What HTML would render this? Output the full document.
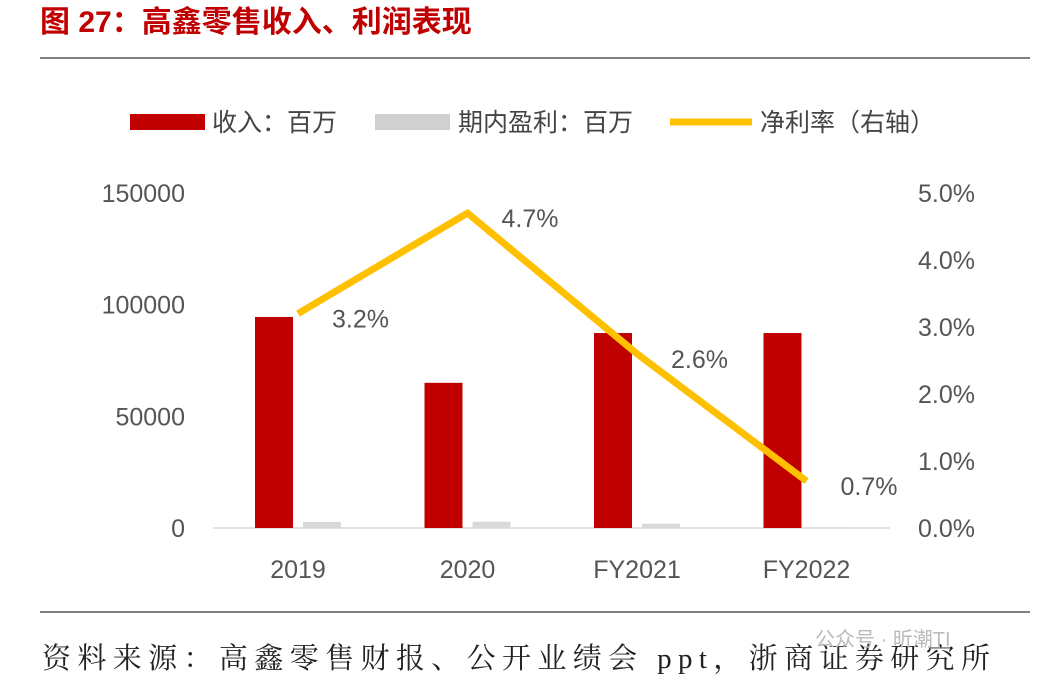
<!DOCTYPE html>
<html><head><meta charset="utf-8"><style>
body{margin:0;background:#fff;width:1050px;height:686px;overflow:hidden;font-family:"Liberation Sans","Noto Sans CJK SC",sans-serif;}
</style></head><body>
<svg id="c" width="1050" height="686" xmlns="http://www.w3.org/2000/svg">
<text x="40" y="32" fill="#c00000" font-size="30" font-weight="bold" font-family="Liberation Sans,Noto Sans CJK SC,sans-serif">图 27：高鑫零售收入、利润表现</text>
<line x1="40" y1="58" x2="1030" y2="58" stroke="#555" stroke-width="1.5"/>
<g font-size="25" fill="#444">
<rect x="130" y="114" width="75" height="16" fill="#c00000"/>
<text x="212" y="131">收入：百万</text>
<rect x="375" y="114" width="75" height="16" fill="#d0d0d0"/>
<text x="458" y="131">期内盈利：百万</text>
<line x1="670" y1="122" x2="752" y2="122" stroke="#ffc000" stroke-width="7"/>
<text x="760" y="131">净利率（右轴）</text>
</g>
<line x1="213" y1="528" x2="890" y2="528" stroke="#d9d9d9" stroke-width="1.5"/>
<g id="marks"></g>
<line x1="40" y1="612" x2="1030" y2="612" stroke="#555" stroke-width="1.5"/>
<text x="42" y="668" font-size="29" fill="#222" textLength="948" lengthAdjust="spacing" font-family="Liberation Serif,Noto Serif CJK SC,serif">资料来源：高鑫零售财报、公开业绩会 ppt，浙商证券研究所</text>
<text x="815" y="646" font-size="20" fill="#bbb">公众号 · 昕潮TI</text>
</svg>
<script>
const categories=["2019","2020","FY2021","FY2022"];
const revenue=[94500,65000,87300,87300];
const profit=[2700,2800,1900,300];
const margin=[3.2,4.7,2.6,0.7];
const marginLabels=["3.2%","4.7%","2.6%","0.7%"];
const leftTicks=[0,50000,100000,150000];
const rightTicks=[0,1,2,3,4,5];
const NS="http://www.w3.org/2000/svg";
const g=document.getElementById("marks");
const y0=528,yTop=193;
const yL=v=>y0-(v/150000)*(y0-yTop);
const yR=v=>y0-(v/5)*(y0-yTop);
const xC=i=>298+i*169.5;
function mk(t,a){const e=document.createElementNS(NS,t);for(const k in a)e.setAttribute(k,a[k]);g.appendChild(e);return e;}
leftTicks.forEach(v=>{const t=mk("text",{x:185,y:yL(v)+9,"text-anchor":"end","font-size":25,fill:"#555"});t.textContent=v;

});
rightTicks.forEach(v=>{const t=mk("text",{x:918,y:yR(v)+9,"font-size":25,fill:"#555"});t.textContent=v.toFixed(1)+"%";

});
categories.forEach((c,i)=>{
const t=mk("text",{x:xC(i),y:578,"text-anchor":"middle","font-size":25,fill:"#555"});t.textContent=c;


const r=mk("rect",{x:xC(i)-43,y:yL(revenue[i]),width:38,height:y0-yL(revenue[i]),fill:"#c00000"});


const p=mk("rect",{x:xC(i)+5,y:yL(profit[i]),width:38,height:y0-yL(profit[i]),fill:"#d9d9d9"});


});
const pl=mk("polyline",{points:margin.map((m,i)=>xC(i)+","+yR(m)).join(" "),fill:"none",stroke:"#ffc000","stroke-width":7,"stroke-linejoin":"miter"});


margin.forEach((m,i)=>{const t=mk("text",{x:xC(i)+34,y:yR(m)+14,"font-size":25,fill:"#555"});t.textContent=marginLabels[i];

});
</script>
</body></html>
